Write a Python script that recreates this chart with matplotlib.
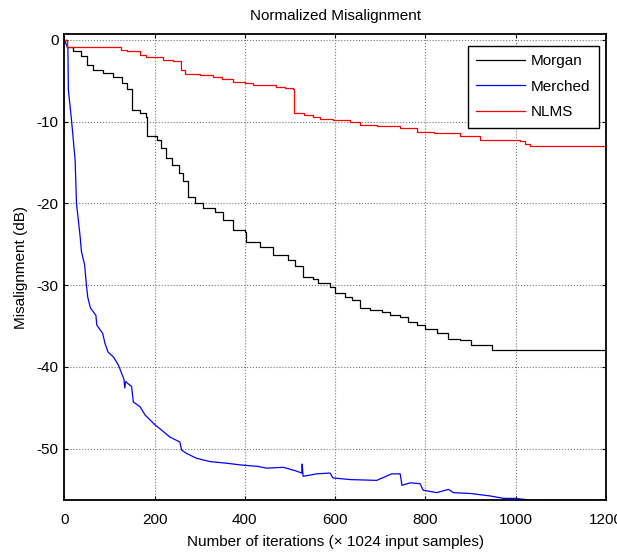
import numpy as np
import matplotlib
matplotlib.use("Agg")
import matplotlib.pyplot as plt

plt.rcParams["font.family"] = ["Liberation Sans", "DejaVu Sans"]
plt.rcParams["font.size"] = 11
plt.rcParams["axes.unicode_minus"] = False

# Morgan curve (step levels)
morgan_x = [0, 5, 20, 36, 50, 64, 86, 108, 127, 140, 149, 168, 181, 183, 205, 214, 225,
            238, 253, 263, 275, 290, 308, 334, 352, 374, 400, 402, 434, 463, 496, 511,
            528, 552, 563, 589, 600, 622, 637, 655, 677, 703, 722, 744, 762, 781, 799,
            825, 851, 877, 902, 947, 1200]
morgan_y = [0, -0.8, -1.3, -2.0, -3.1, -3.7, -4.0, -4.5, -5.3, -6.0, -8.6, -8.9, -9.4,
            -11.8, -12.2, -13.2, -14.4, -15.3, -16.3, -17.3, -19.2, -20.0, -20.6, -21.1,
            -22.0, -23.3, -23.5, -24.7, -25.3, -26.3, -26.9, -27.7, -29.0, -29.3, -29.8,
            -30.2, -31.0, -31.5, -31.8, -32.8, -33.0, -33.3, -33.7, -33.9, -34.5, -34.9,
            -35.4, -35.9, -36.6, -36.7, -37.3, -37.9, -37.9]

# Merched curve
merched_x = [0, 8, 9, 16, 24, 27, 35, 38, 45, 49, 52, 58, 70, 72, 85, 90, 97, 109, 120,
             127, 132, 134, 136, 140, 149, 153, 168, 179, 190, 201, 219, 234, 256, 260,
             271, 293, 323, 360, 389, 430, 448, 485, 511, 526, 527, 529, 559, 589, 595,
             633, 692, 725, 744, 748, 766, 788, 795, 825, 851, 862, 899, 943, 973, 998,
             1032, 1200]
merched_y = [0, -1.0, -6.1, -9.8, -14.7, -20.0, -24.0, -25.9, -27.5, -30.0, -31.5, -32.8,
             -33.7, -34.9, -35.9, -37.1, -38.2, -38.8, -39.8, -40.8, -41.5, -42.6, -41.8,
             -42.0, -42.4, -44.3, -44.9, -45.9, -46.5, -47.1, -47.9, -48.6, -49.2, -50.2,
             -50.6, -51.2, -51.6, -51.8, -52.0, -52.2, -52.4, -52.3, -52.7, -53.0, -51.9,
             -53.4, -53.1, -53.0, -53.6, -53.8, -53.9, -53.1, -53.1, -54.5, -54.2, -54.3,
             -55.1, -55.4, -55.0, -55.4, -55.5, -55.8, -56.1, -56.1, -56.3, -56.3]

# NLMS curve (step levels)
nlms_x = [0, 5, 116, 125, 138, 168, 182, 219, 240, 259, 268, 300, 330, 350, 374, 400, 419,
          470, 490, 506, 509, 530, 552, 566, 596, 633, 655, 692, 744, 781, 818, 877, 921,
          995, 1010, 1020, 1032, 1200]
nlms_y = [0, -0.8, -0.9, -1.2, -1.4, -1.8, -2.1, -2.4, -2.6, -3.7, -4.2, -4.3, -4.5, -4.8,
          -5.1, -5.3, -5.5, -5.8, -5.9, -6.0, -8.9, -9.2, -9.4, -9.7, -9.8, -10.0, -10.4,
          -10.5, -10.8, -11.3, -11.4, -11.8, -12.2, -12.2, -12.4, -12.7, -13.0, -13.0]

xticks = [0, 200, 400, 600, 800, 1000, 1200]
yticks = [0, -10, -20, -30, -40, -50]

fig = plt.figure(figsize=(6.17, 5.52), dpi=100)
ax = fig.add_axes([0.1042, 0.0942, 0.8780, 0.8437])

ax.plot(morgan_x, morgan_y, color="black", lw=0.9, drawstyle="steps-post", label="Morgan")
ax.plot(merched_x, merched_y, color="blue", lw=0.9, label="Merched")
ax.plot(nlms_x, nlms_y, color="red", lw=0.9, drawstyle="steps-post", label="NLMS")

ax.set_xlim(0, 1200)
ax.set_ylim(-56.3, 0.7)
ax.set_xticks(xticks)
ax.set_yticks(yticks)
ax.grid(True, color="#777777", linestyle=":", linewidth=0.8)
ax.tick_params(direction="in", top=True, right=True, length=3, width=0.8)
ax.tick_params(axis="x", pad=9)
ax.tick_params(axis="y", pad=4)
for s in ax.spines.values():
    s.set_linewidth(1.3)

ax.set_title("Normalized Misalignment", fontsize=11, pad=10)
ax.set_xlabel("Number of iterations (\u00d7 1024 input samples)", labelpad=6)
ax.set_ylabel("Misalignment (dB)", labelpad=6)

leg = ax.legend(loc="upper right", bbox_to_anchor=(0.987, 0.975), borderaxespad=0,
                fancybox=False, edgecolor="black", framealpha=1, handlelength=3.2,
                handletextpad=0.4, labelspacing=0.75, borderpad=0.55)
leg.get_frame().set_linewidth(1.0)

fig.savefig("out.png", dpi=100)
